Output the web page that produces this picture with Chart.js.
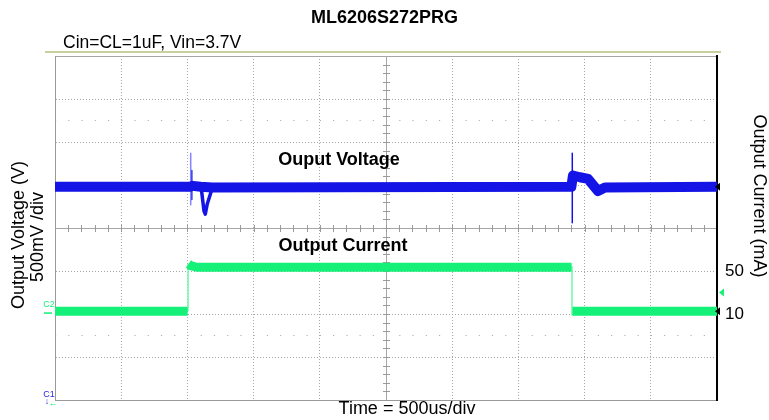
<!DOCTYPE html>
<html>
<head>
<meta charset="utf-8">
<script src="https://cdn.jsdelivr.net/npm/chart.js"></script>
<style>
  body { margin: 0; background: #fff; }
  #wrap { width: 769px; height: 420px; }
</style>
</head>
<body>
<div id="wrap"><canvas id="scope"></canvas></div>
<script>
const FONT = '"Liberation Sans", Arial, sans-serif';

// time in us, 500us/div, 10 divisions
const timeMin = 0;
const timeMax = 5000;

// CH1 output voltage (V), thick noisy band
const voltBandT = [0, 1020, 1040, 1100, 1190, 3900, 3912, 3965, 4026, 4101, 4154, 5000];
const voltBandV = [2.70, 2.70, 2.71, 2.70, 2.69, 2.70, 2.83, 2.81, 2.79, 2.65, 2.69, 2.70];
// undershoot right after the load step
const voltDipT = [1105, 1125, 1135, 1150, 1185];
const voltDipV = [2.68, 2.42, 2.38, 2.50, 2.67];
// switching spikes
const lightSpikeT = [1025, 1025];
const lightSpikeV = [3.09, 2.49];
const darkSpikeT = [1033, 1033, 1036, 3907, 3907];
const darkSpikeV = [2.89, 2.55, null, 3.09, 2.28];

// CH2 output current (mA)
const curBandT = [0, 1002, 1004, 1008, 1025, 1070, 3902, 3904, 3908, 5000];
const curBandV = [12.5, 12.5, null, 56.5, 55, 53.5, 53.5, null, 12.5, 12.5];
const curEdgeT = [1005, 1005, 1006, 3905, 3905];
const curEdgeV = [12.5, 57, null, 54, 9];

// right axis labels
const currentTicks = [10, 50];

const pts = (ts, vs) => ts.map((t, i) => ({ x: t, y: vs[i] }));

const BLUE = '#1414e6';
const GREEN = 'rgb(20, 240, 120)';

const isSolid = (v, list) => list.indexOf(v) !== -1;

const scopeDecor = {
  id: 'scopeDecor',
  beforeDatasetsDraw(chart) {
    const { ctx, scales: { x, y } } = chart;
    const cx = x.getPixelForValue(2500);
    const cy = y.getPixelForValue(4);
    ctx.save();
    ctx.strokeStyle = '#9a9a9a';
    ctx.lineWidth = 1;
    ctx.beginPath();
    for (let t = timeMin + 100; t < timeMax; t += 100) {
      const px = Math.round(x.getPixelForValue(t)) + 0.5;
      ctx.moveTo(px, cy - 3);
      ctx.lineTo(px, cy + 4);
    }
    for (let d = 0.2; d < 8; d += 0.2) {
      const py = Math.round(y.getPixelForValue(d)) + 0.5;
      ctx.moveTo(cx - 3, py);
      ctx.lineTo(cx + 4, py);
    }
    ctx.stroke();
    ctx.restore();
  },
  afterDraw(chart) {
    const { ctx, chartArea: a, scales: { x, yv, yc } } = chart;
    ctx.save();

    // header rule + subtitle
    ctx.strokeStyle = '#c9cf9f';
    ctx.lineWidth = 2;
    ctx.beginPath();
    ctx.moveTo(45, 52);
    ctx.lineTo(721, 52);
    ctx.stroke();

    ctx.fillStyle = '#000';
    ctx.textBaseline = 'middle';
    ctx.font = `17.5px ${FONT}`;
    ctx.textAlign = 'left';
    ctx.fillText('Cin=CL=1uF, Vin=3.7V', 63, 43);

    // trace labels
    ctx.font = `bold 18px ${FONT}`;
    ctx.textAlign = 'center';
    ctx.fillText('Ouput Voltage', x.getPixelForValue(2145), yv.getPixelForValue(3.01));
    ctx.fillText('Output Current', x.getPixelForValue(2175), yc.getPixelForValue(73.3));

    // axis titles
    ctx.font = `18px ${FONT}`;
    ctx.fillText('Time = 500us/div', 407, 409);

    ctx.save();
    ctx.translate(19, 235);
    ctx.rotate(-Math.PI / 2);
    ctx.fillText('Output Voltage (V)', 0, 0);
    ctx.restore();
    ctx.save();
    ctx.translate(38, 237);
    ctx.rotate(-Math.PI / 2);
    ctx.fillText('500mV /div', 0, 0);
    ctx.restore();
    ctx.save();
    ctx.translate(759, 196);
    ctx.rotate(Math.PI / 2);
    ctx.fillText('Output Current (mA)', 0, 0);
    ctx.restore();

    // channel markers
    ctx.font = `9px ${FONT}`;
    ctx.fillStyle = GREEN;
    ctx.fillText('C2', 49, 305);
    ctx.fillRect(44, yc.getPixelForValue(12.5) + 1, 8, 1.5);
    ctx.fillStyle = '#2a2ae0';
    ctx.fillText('C1', 49, 395);
    ctx.fillText('\u2193', 47, 402);
    ctx.fillStyle = GREEN;
    ctx.fillText('\u2190', 53, 404);

    const tri = (px, py, color) => {
      ctx.fillStyle = color;
      ctx.beginPath();
      ctx.moveTo(px, py);
      ctx.lineTo(px + 5, py - 4);
      ctx.lineTo(px + 5, py + 4);
      ctx.closePath();
      ctx.fill();
    };
    tri(a.right - 2, yv.getPixelForValue(2.70), '#000');
    tri(a.right - 2, yc.getPixelForValue(12.5), '#000');
    tri(a.right + 2, yc.getPixelForValue(30), GREEN);

    ctx.restore();
  }
};

new Chart(document.getElementById('scope'), {
  type: 'line',
  data: {
    datasets: [
      { data: pts(voltBandT, voltBandV), yAxisID: 'yv', borderColor: BLUE, borderWidth: 10 },
      { data: pts(voltDipT, voltDipV), yAxisID: 'yv', borderColor: BLUE, borderWidth: 3.5 },
      { data: pts(lightSpikeT, lightSpikeV), yAxisID: 'yv', borderColor: '#8585ff', borderWidth: 1.5 },
      { data: pts(darkSpikeT, darkSpikeV), yAxisID: 'yv', borderColor: BLUE, borderWidth: 1.5 },
      { data: pts(curBandT, curBandV), yAxisID: 'yc', borderColor: GREEN, borderWidth: 9 },
      { data: pts(curEdgeT, curEdgeV), yAxisID: 'yc', borderColor: 'rgb(110, 250, 170)', borderWidth: 1.5 }
    ]
  },
  options: {
    responsive: true,
    maintainAspectRatio: false,
    animation: false,
    layout: { padding: 0 },
    elements: {
      point: { radius: 0 },
      line: { tension: 0, borderCapStyle: 'butt', borderJoinStyle: 'round', spanGaps: false }
    },
    plugins: {
      legend: { display: false },
      tooltip: { enabled: false },
      title: {
        display: true,
        text: 'ML6206S272PRG',
        color: '#000',
        font: { family: FONT, size: 18, weight: 'bold' },
        padding: { top: 7, bottom: 27.4 }
      }
    },
    scales: {
      x: {
        type: 'linear',
        min: timeMin,
        max: timeMax,
        ticks: { display: false, stepSize: 500 },
        grid: { color: '#a6a6a6', drawTicks: false },
        border: {
          color: '#9a9a9a',
          dash: (c) => (c.tick && isSolid(c.tick.value, [2500]) ? [] : [1, 2])
        },
        afterFit: (s) => { s.height = 20; }
      },
      y: {
        position: 'left',
        min: 0,
        max: 8,
        ticks: { display: false, stepSize: 1 },
        grid: { color: '#a6a6a6', drawTicks: false },
        border: {
          color: '#9a9a9a',
          dash: (c) => (c.tick && isSolid(c.tick.value, [4, 8]) ? [] : [1, 2])
        },
        afterFit: (s) => { s.width = 55; }
      },
      yd: {
        position: 'left',
        min: 0,
        max: 8,
        ticks: { display: false },
        afterBuildTicks: (s) => { s.ticks = [{ value: 1.5 }, { value: 6.5 }]; },
        grid: { color: '#b0b0b0', drawTicks: false },
        border: { display: false, dash: [1.2, 12.04] },
        afterFit: (s) => { s.width = 0; }
      },
      yv: {
        display: false,
        min: 0.22,
        max: 4.22
      },
      yc: {
        position: 'right',
        min: -70,
        max: 250,
        afterBuildTicks: (s) => { s.ticks = currentTicks.map((v) => ({ value: v })); },
        ticks: { color: '#000', padding: 8, font: { family: FONT, size: 17 } },
        grid: { display: false, drawTicks: false },
        border: { display: true, color: '#000', width: 2 },
        afterFit: (s) => { s.width = 52; }
      }
    }
  },
  plugins: [scopeDecor]
});
</script>
</body>
</html>
